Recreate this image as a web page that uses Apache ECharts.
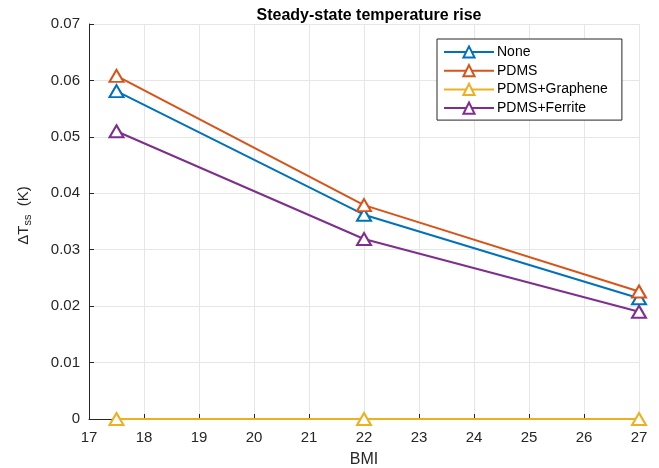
<!DOCTYPE html>
<html><head><meta charset="utf-8">
<script src="https://cdn.jsdelivr.net/npm/echarts@6/dist/echarts.min.js"></script>
<style>html,body{margin:0;padding:0;background:#fff}#c{width:659px;height:468px}</style>
</head><body><div id="c"></div>
<script>
const bmi = [17.5, 22, 27];
const seriesNames = ['None', 'PDMS', 'PDMS+Graphene', 'PDMS+Ferrite'];
const valNone = [0.0581, 0.0362, 0.0214];
const valPDMS = [0.0608, 0.0379, 0.0226];
const valGraphene = [0, 0, 0];
const valFerrite = [0.0510, 0.0319, 0.0190];
const xTicks = [17, 18, 19, 20, 21, 22, 23, 24, 25, 26, 27];
const yTicks = [0, 0.01, 0.02, 0.03, 0.04, 0.05, 0.06, 0.07];

const colors = ['#0072BD', '#D95319', '#EDB120', '#7E2F8E'];
const allVals = [valNone, valPDMS, valGraphene, valFerrite];
const font = 'Helvetica, Arial, "Liberation Sans", sans-serif';

const chart = echarts.init(document.getElementById('c'), null, {renderer: 'canvas'});
chart.setOption({
  animation: false,
  backgroundColor: '#fff',
  title: {
    text: 'Steady-state temperature rise',
    left: 364, top: 3, textAlign: 'center',
    textStyle: {fontFamily: font, fontSize: 16, fontWeight: 'bold', color: '#000'}
  },
  legend: {
    left: 437, top: 39, width: 185, height: 81,
    orient: 'vertical',
    backgroundColor: '#fff',
    borderColor: '#262626', borderWidth: 1,
    padding: [6, 14, 5, 6],
    itemGap: 4.7,
    itemWidth: 50, itemHeight: 14,
    textStyle: {fontFamily: font, fontSize: 14, color: '#000', padding: [0,0,0,-2]},
    data: seriesNames
  },
  grid: {left: 89, right: 20, top: 24, bottom: 49, outerBoundsMode: 'none', containLabel: false},
  xAxis: {
    type: 'value', min: xTicks[0], max: xTicks[xTicks.length-1], interval: 1,
    name: 'BMI', nameLocation: 'middle', nameGap: 33,
    nameTextStyle: {fontFamily: font, fontSize: 16, color: '#262626'},
    axisLine: {show: true, lineStyle: {color: '#262626', width: 1}},
    axisTick: {show: true, inside: true, length: 5, lineStyle: {color: '#262626'}},
    axisLabel: {fontFamily: font, fontSize: 15, color: '#262626', margin: 11},
    splitLine: {show: true, lineStyle: {color: '#e6e6e6', width: 1}}
  },
  yAxis: {
    type: 'value', min: yTicks[0], max: yTicks[yTicks.length-1], interval: 0.01,
    name: '{a|ΔT}{s|ss}{a|  (K)}', nameLocation: 'middle', nameGap: 56, nameRotate: 90,
    nameTextStyle: {
      padding: [0, 0, 0, 12],
      rich: {
        a: {fontFamily: font, fontSize: 15, color: '#262626'},
        s: {fontFamily: font, fontSize: 11, color: '#262626', verticalAlign: 'bottom', padding: [7,0,0,0]}
      }
    },
    axisLine: {show: true, lineStyle: {color: '#262626', width: 1}},
    axisTick: {show: true, inside: true, length: 5, lineStyle: {color: '#262626'}},
    axisLabel: {fontFamily: font, fontSize: 15, color: '#262626', margin: 9},
    splitLine: {show: true, lineStyle: {color: '#e6e6e6', width: 1}}
  },
  series: seriesNames.map((n, i) => ({
    name: n, type: 'line',
    data: bmi.map((x, j) => [x, allVals[i][j]]),
    symbol: 'triangle', symbolSize: [14, 12],
    showAllSymbol: true,
    clip: false,
    lineStyle: {color: colors[i], width: 2},
    itemStyle: {color: '#fff', borderColor: colors[i], borderWidth: 2},
    z: 2 + i
  }))
});
</script></body></html>
